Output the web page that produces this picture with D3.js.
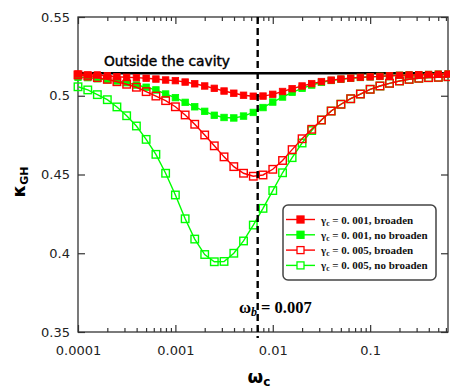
<!DOCTYPE html>
<html>
<head>
<meta charset="utf-8">
<script src="https://cdn.jsdelivr.net/npm/d3@7"></script>
<style>
body { margin: 0; background: #fff; }
svg { display: block; }
</style>
</head>
<body>
<div id="chart"></div>
<script>
// omega_c grid (log spaced)
var omega = [0.0001, 0.000126, 0.000158, 0.0002, 0.000251, 0.000316, 0.000398, 0.000501, 0.000631, 0.000794,
             0.001, 0.00126, 0.00158, 0.002, 0.00251, 0.00316, 0.00398, 0.00501, 0.00631, 0.00794,
             0.01, 0.0126, 0.0158, 0.02, 0.0251, 0.0316, 0.0398, 0.0501, 0.0631, 0.0794,
             0.1, 0.126, 0.158, 0.2, 0.251, 0.316, 0.398, 0.501, 0.631];

var g001Broaden = [0.5138,0.5132,0.5132,0.5127,0.5121,0.5117,0.5115,0.5111,0.5106,0.5100,
                   0.5096,0.5087,0.5076,0.5062,0.5047,0.5030,0.5016,0.5003,0.4997,0.4998,
                   0.5009,0.5027,0.5045,0.5062,0.5077,0.5090,0.5099,0.5106,0.5112,0.5117,
                   0.5120,0.5123,0.5127,0.5130,0.5132,0.5134,0.5135,0.5137,0.5138];
var g001NoBroaden = [0.5117,0.5115,0.5108,0.5102,0.5094,0.5083,0.5068,0.5054,0.5037,0.5011,
                     0.4988,0.4958,0.4930,0.4901,0.4876,0.4862,0.4859,0.4871,0.4894,0.4925,
                     0.4960,0.4992,0.5022,0.5047,0.5068,0.5085,0.5097,0.5105,0.5111,0.5116,
                     0.5120,0.5123,0.5127,0.5130,0.5132,0.5134,0.5135,0.5137,0.5138];
var g005Broaden = [0.5132,0.5125,0.5115,0.5104,0.5089,0.5073,0.5054,0.5026,0.4998,0.4969,
                   0.4930,0.4878,0.4819,0.4751,0.4682,0.4612,0.4550,0.4508,0.4489,0.4497,
                   0.4533,0.4589,0.4658,0.4727,0.4787,0.4846,0.4903,0.4946,0.4981,0.5011,
                   0.5041,0.5062,0.5079,0.5094,0.5104,0.5111,0.5115,0.5117,0.5121];
var g005NoBroaden = [0.5057,0.5037,0.5007,0.4975,0.4929,0.4873,0.4808,0.4723,0.4628,0.4508,
                     0.4370,0.4219,0.4090,0.3992,0.3946,0.3948,0.4000,0.4078,0.4179,0.4285,
                     0.4398,0.4511,0.4607,0.4700,0.4779,0.4846,0.4903,0.4946,0.4981,0.5011,
                     0.5041,0.5062,0.5079,0.5094,0.5104,0.5111,0.5115,0.5117,0.5121];

var outsideValue = 0.5143;
var omegaB = 0.007;
var xTicks = [0.0001, 0.001, 0.01, 0.1];
var xTickLabels = ["0.0001", "0.001", "0.01", "0.1"];
var yTicks = [0.35, 0.4, 0.45, 0.5, 0.55];
var yTickLabels = ["0.35", "0.4", "0.45", "0.5", "0.55"];

var series = [
    {vals: g005NoBroaden, color: "#00ff00", filled: false, label: "0. 005, no broaden"},
    {vals: g001NoBroaden, color: "#00ff00", filled: true,  label: "0. 001, no broaden"},
    {vals: g005Broaden,   color: "#ff0000", filled: false, label: "0. 005, broaden"},
    {vals: g001Broaden,   color: "#ff0000", filled: true,  label: "0. 001, broaden"}
];
var legendOrder = [3, 1, 2, 0];

(function() {
var width = 450, height = 389;
var mLeft = 78, mRight = 448, mTop = 17, mBottom = 332;

var svg = d3.select("#chart").append("svg")
    .attr("width", width)
    .attr("height", height);

var x = d3.scaleLog().domain([0.0001, 0.63]).range([mLeft, mRight]);
var y = d3.scaleLinear().domain([0.35, 0.55]).range([mBottom, mTop]);

// minor ticks for log axis
var minor = [];
xTicks.forEach(function(d) {
    for (var m = 2; m <= 9; m++) {
        if (d * m <= 0.63) minor.push(d * m);
    }
});

var axisColor = "#333";

function styleAxis(g) {
    g.select(".domain").remove();
    g.selectAll("line").attr("stroke", axisColor).attr("stroke-width", 1.2);
    g.selectAll("text").attr("font-family", "DejaVu Sans").attr("font-size", 13).attr("fill", "#222");
}

// bottom axis, ticks pointing in
svg.append("g")
    .attr("transform", "translate(0," + mBottom + ")")
    .call(d3.axisBottom(x).tickValues(xTicks).tickSize(-7).tickPadding(14)
        .tickFormat(function(d, i) { return xTickLabels[i]; }))
    .call(styleAxis);
svg.append("g")
    .attr("transform", "translate(0," + mBottom + ")")
    .call(d3.axisBottom(x).tickValues(minor).tickSize(-4).tickFormat(""))
    .call(styleAxis);

// top axis
svg.append("g")
    .attr("transform", "translate(0," + mTop + ")")
    .call(d3.axisTop(x).tickValues(xTicks).tickSize(-7).tickFormat(""))
    .call(styleAxis);
svg.append("g")
    .attr("transform", "translate(0," + mTop + ")")
    .call(d3.axisTop(x).tickValues(minor).tickSize(-4).tickFormat(""))
    .call(styleAxis);

// left axis
svg.append("g")
    .attr("transform", "translate(" + mLeft + ",0)")
    .call(d3.axisLeft(y).tickValues(yTicks).tickSize(-7).tickPadding(8)
        .tickFormat(function(d, i) { return yTickLabels[i]; }))
    .call(styleAxis);

// right axis
svg.append("g")
    .attr("transform", "translate(" + mRight + ",0)")
    .call(d3.axisRight(y).tickValues(yTicks).tickSize(-7).tickFormat(""))
    .call(styleAxis);

// frame
svg.append("rect")
    .attr("x", mLeft).attr("y", mTop)
    .attr("width", mRight - mLeft).attr("height", mBottom - mTop)
    .attr("fill", "none").attr("stroke", axisColor).attr("stroke-width", 1.3);

// outside the cavity line
svg.append("line")
    .attr("x1", mLeft).attr("x2", mRight)
    .attr("y1", y(outsideValue)).attr("y2", y(outsideValue))
    .attr("stroke", "#000").attr("stroke-width", 2.6);

svg.append("text")
    .attr("x", 104).attr("y", 66)
    .attr("font-family", "DejaVu Sans")
    .attr("font-size", 14)
    .attr("stroke", "#000").attr("stroke-width", 0.45)
    .attr("textLength", 126)
    .attr("lengthAdjust", "spacingAndGlyphs")
    .text("Outside the cavity");

// series
var line = d3.line()
    .x(function(d, i) { return x(omega[i]); })
    .y(function(d) { return y(d); });

var plot = svg.append("g");

series.forEach(function(s) {
    plot.append("path")
        .datum(s.vals)
        .attr("d", line)
        .attr("fill", "none")
        .attr("stroke", s.color)
        .attr("stroke-width", 1.4);

    var sz = s.filled ? 6.5 : 7.5;
    plot.selectAll(null)
        .data(s.vals)
        .enter()
        .append("rect")
        .attr("x", function(d, i) { return x(omega[i]) - sz / 2; })
        .attr("y", function(d) { return y(d) - sz / 2; })
        .attr("width", sz).attr("height", sz)
        .attr("fill", s.filled ? s.color : "none")
        .attr("stroke", s.color)
        .attr("stroke-width", s.filled ? 0.8 : 1.4);
});

// omega_b dashed line
svg.append("line")
    .attr("x1", x(omegaB)).attr("x2", x(omegaB))
    .attr("y1", mTop).attr("y2", mBottom + 6)
    .attr("stroke", "#000").attr("stroke-width", 2.4)
    .attr("stroke-dasharray", "7,4");

var wb = svg.append("text")
    .attr("x", 239).attr("y", 313)
    .attr("font-family", "Liberation Serif")
    .attr("font-weight", "bold")
    .attr("font-size", 16.5);
wb.append("tspan").text("ω");
wb.append("tspan").attr("font-style", "italic").attr("font-size", 12).attr("dy", 3).text("b");
wb.append("tspan").attr("dy", -3).attr("dx", 4).text("= 0.007");

// legend
var lg = svg.append("g");
lg.append("rect")
    .attr("x", 283).attr("y", 205)
    .attr("width", 153).attr("height", 75)
    .attr("rx", 5).attr("ry", 5)
    .attr("fill", "#fff")
    .attr("stroke", "#444").attr("stroke-width", 1.5);

legendOrder.forEach(function(si, j) {
    var s = series[si];
    var ly = 219.5 + j * 15.3;
    lg.append("line")
        .attr("x1", 286).attr("x2", 315)
        .attr("y1", ly).attr("y2", ly)
        .attr("stroke", s.color).attr("stroke-width", 1.4);
    var sz = 7;
    lg.append("rect")
        .attr("x", 300.5 - sz / 2).attr("y", ly - sz / 2)
        .attr("width", sz).attr("height", sz)
        .attr("fill", s.filled ? s.color : "#fff")
        .attr("stroke", s.color).attr("stroke-width", 1.3);
    var t = lg.append("text")
        .attr("x", 321).attr("y", ly + 4)
        .attr("font-family", "Liberation Serif")
        .attr("font-weight", "bold")
        .attr("font-size", 11)
        .attr("fill", "#111");
    t.append("tspan").text("γ");
    t.append("tspan").attr("font-size", 7.5).attr("dy", 2).text("c");
    t.append("tspan").attr("dy", -2).text(" = " + s.label);
});

// axis labels
var xl = svg.append("text")
    .attr("x", 259).attr("y", 383)
    .attr("text-anchor", "middle")
    .attr("font-family", "DejaVu Sans")
    .attr("font-weight", "bold")
    .attr("font-size", 18);
xl.append("tspan").text("ω");
xl.append("tspan").attr("font-size", 12).attr("dy", 3).text("c");

var ylab = svg.append("text")
    .attr("transform", "translate(25,182) rotate(-90)")
    .attr("text-anchor", "middle")
    .attr("font-family", "DejaVu Sans")
    .attr("font-weight", "bold")
    .attr("font-size", 18);
ylab.append("tspan").text("κ");
ylab.append("tspan").attr("font-size", 11).attr("dy", 3).text("GH");
})();
</script>
</body>
</html>
